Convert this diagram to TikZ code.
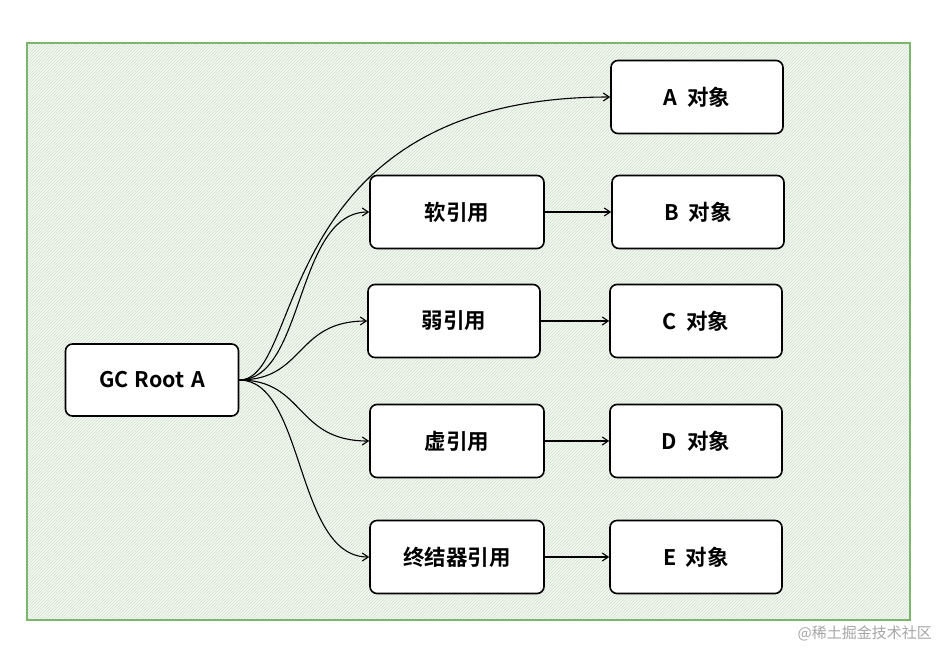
\documentclass[tikz,border=0pt]{standalone}
\usepackage{fontspec}
\setmainfont{Noto Sans CJK SC}
\newfontfamily\boxfont{Noto Sans CJK SC}[BoldFont={* Bold}]
\usetikzlibrary{arrows.meta,patterns}
\definecolor{framegreen}{HTML}{7CB66A}
\definecolor{palegreen}{HTML}{F5F9F4}
\definecolor{hatchgreen}{HTML}{CFDFCA}
\tikzset{
  box/.style={draw=black, line width=1.6pt, rounded corners=7pt, fill=white,
    minimum width=172pt, minimum height=73pt, inner sep=0pt,
    font=\boxfont\bfseries\fontsize{21.5}{24}\selectfont},
  link/.style={draw=black, line width=1.1pt, -{Straight Barb[length=6pt,width=8pt]}}
}
\begin{document}
\begin{tikzpicture}[x=1pt,y=-1pt]
\useasboundingbox (0,0) rectangle (950,659);
\fill[white] (0,0) rectangle (950,659);
\fill[palegreen] (27,43) rectangle (910,620);
\fill[pattern=north east lines, pattern color=hatchgreen] (27,43) rectangle (910,620);
\draw[framegreen, line width=1.3pt] (27,43) rectangle (910,620);

\node[box, minimum width=173pt, minimum height=72pt] (root) at (152,380) {GC\hspace{0.3em}Root\hspace{0.3em}A};
\node[box] (a) at (697,97) {A\hspace{0.45em}对象};
\node[box, minimum width=174pt] (soft) at (457,212) {软引用};
\node[box] (b) at (698,212) {B\hspace{0.45em}对象};
\node[box] (weak) at (454,321) {弱引用};
\node[box] (c) at (696,321) {C\hspace{0.45em}对象};
\node[box, minimum width=174pt] (phantom) at (457,441) {虚引用};
\node[box] (d) at (696,441) {D\hspace{0.45em}对象};
\node[box, minimum width=174pt] (final) at (457,557) {终结器引用};
\node[box] (e) at (696,557) {E\hspace{0.45em}对象};

\draw[link] (root.east) .. controls (305,380) and (270,97) .. (a.west);
\draw[link] (root.east) .. controls (305,380) and (295,212) .. (soft.west);
\draw[link] (root.east) .. controls (305,380) and (295,321) .. (weak.west);
\draw[link] (root.east) .. controls (305,380) and (295,441) .. (phantom.west);
\draw[link] (root.east) .. controls (305,380) and (295,557) .. (final.west);

\draw[link] (soft.east) -- (b.west);
\draw[link] (weak.east) -- (c.west);
\draw[link] (phantom.east) -- (d.west);
\draw[link] (final.east) -- (e.west);

\node[anchor=base east, text=black!35, font=\fontsize{15}{18}\selectfont, inner sep=0pt] (wm) at (932,638) {@稀土掘金技术社区};
\end{tikzpicture}
\end{document}
